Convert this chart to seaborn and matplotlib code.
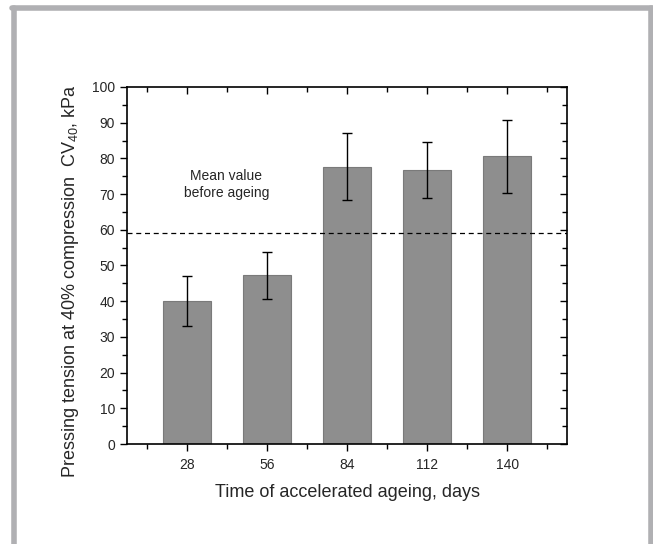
import numpy as np
import pandas as pd
import matplotlib
matplotlib.use("Agg")
import matplotlib.pyplot as plt
import seaborn as sns
from matplotlib.ticker import MultipleLocator
from matplotlib.lines import Line2D

# data
days = ["28", "56", "84", "112", "140"]
mean_cv40 = [40.0, 47.2, 77.7, 76.7, 80.6]
sd_cv40 = [7.0, 6.5, 9.3, 7.9, 10.2]
before_ageing = 59.0

sns.set_theme(style="white")
plt.rcParams['font.family'] = ['Liberation Sans', 'DejaVu Sans']
plt.rcParams['mathtext.fontset'] = 'custom'
plt.rcParams['mathtext.rm'] = 'Liberation Sans'
plt.rcParams['mathtext.it'] = 'Liberation Sans'

df = pd.DataFrame({"days": days, "cv40": mean_cv40})

fig = plt.figure(figsize=(6.53, 5.44), dpi=100)
ax = fig.add_axes([0.1945, 0.1838, 0.674, 0.6563])

sns.barplot(data=df, x="days", y="cv40", order=days, color="#8e8e8e",
            saturation=1, width=0.6, edgecolor="#7a7a7a", linewidth=0.8,
            errorbar=None, ax=ax)
ax.errorbar(range(len(days)), mean_cv40, yerr=sd_cv40, fmt="none",
            ecolor="black", elinewidth=1, capsize=3.5, capthick=1)

ax.axhline(before_ageing, color="black", ls=(0, (4, 3)), lw=0.9)
ax.text(0.49, 72.6, "Mean value\nbefore ageing", ha="center", va="center",
        fontsize=10, linespacing=1.3)

ax.set_xlim(-0.75, 4.75)
ax.set_ylim(0, 100)
ax.yaxis.set_major_locator(MultipleLocator(10))
ax.yaxis.set_minor_locator(MultipleLocator(5))
ax.xaxis.set_minor_locator(MultipleLocator(0.5))

for s in ax.spines.values():
    s.set_color("black")
    s.set_linewidth(1.2)

ax.tick_params(axis="both", which="both", bottom=True, left=True,
               top=True, right=True, labelsize=10, color="black", width=1)
ax.tick_params(axis="both", which="major", length=5)
ax.tick_params(axis="both", which="minor", length=3.5)
ax.tick_params(axis="x", which="major", pad=5)
ax.tick_params(axis="x", which="both", direction="out")
ax.tick_params(axis="y", which="both", direction="out")

# top and right ticks point inward
for t in ax.xaxis.get_major_ticks() + ax.xaxis.get_minor_ticks():
    t.tick2line.set_marker(matplotlib.markers.TICKDOWN)
for t in ax.yaxis.get_major_ticks() + ax.yaxis.get_minor_ticks():
    t.tick2line.set_marker(matplotlib.markers.TICKLEFT)

ax.set_xlabel("Time of accelerated ageing, days", fontsize=13, labelpad=9)
ax.set_ylabel("Pressing tension at 40% compression  CV$_{40}$, kPa",
              fontsize=13)
ax.yaxis.set_label_coords(-0.105, 0.457)

# grey frame around the figure
frame_color = "#b0b0b3"
fig.add_artist(Line2D([14 / 653, 14 / 653], [0, 1 - 7.5 / 544],
                      transform=fig.transFigure, color=frame_color, lw=4))
fig.add_artist(Line2D([650.5 / 653, 650.5 / 653], [0, 1 - 7.5 / 544],
                      transform=fig.transFigure, color=frame_color, lw=4))
fig.add_artist(Line2D([12 / 653, 653 / 653], [1 - 7.5 / 544, 1 - 7.5 / 544],
                      transform=fig.transFigure, color=frame_color, lw=4))

fig.savefig("out.png", dpi=100, facecolor="white")
